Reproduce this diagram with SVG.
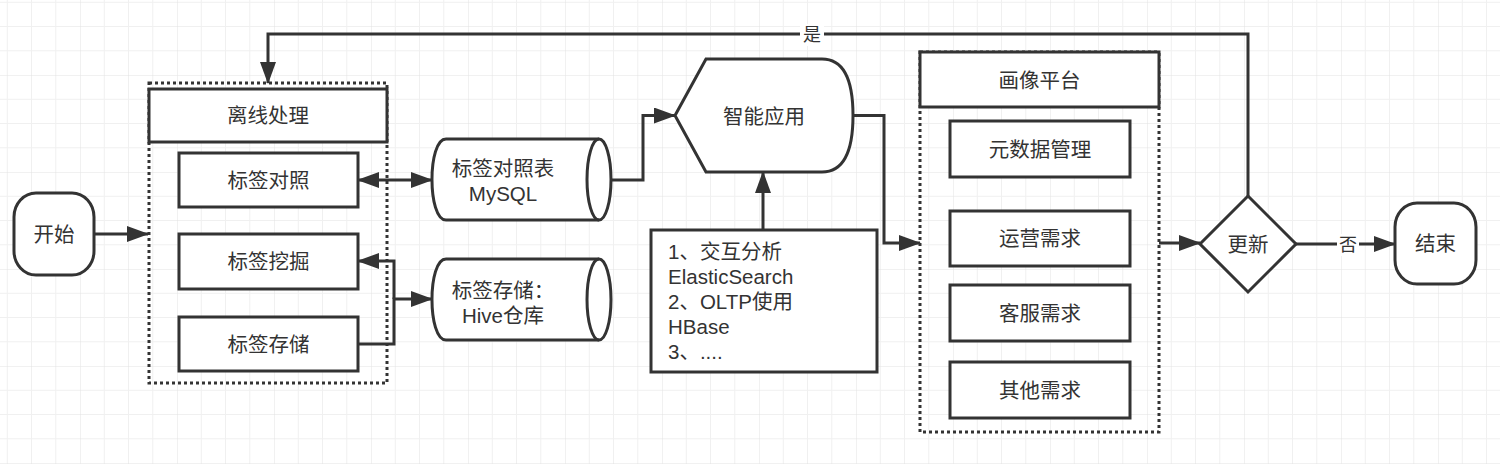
<svg xmlns="http://www.w3.org/2000/svg" width="1500" height="464" viewBox="0 0 1500 464">
<defs>
<pattern id="grid" x="80" y="75" width="97" height="97" patternUnits="userSpaceOnUse">
<path d="M24.25 0V97M48.5 0V97M72.75 0V97M0 24.25H97M0 48.5H97M0 72.75H97" stroke="#f0f0f0" stroke-width="1" fill="none"/>
<path d="M0 0V97M0 0H97" stroke="#e3e3e3" stroke-width="1" fill="none"/>
</pattern>
<marker id="arr" viewBox="0 0 22 16" markerWidth="22" markerHeight="16" refX="21" refY="8" orient="auto-start-reverse" markerUnits="userSpaceOnUse">
<path d="M0,0 L22,8 L0,16 Z" fill="#333"/>
</marker>
<style>
.s{fill:#fff;stroke:#333;stroke-width:3}
.d{fill:none;stroke:#333;stroke-width:3;stroke-dasharray:3 3}
.e{fill:none;stroke:#333;stroke-width:3}
.bg{fill:#fff}
text{font-family:"Liberation Sans","Noto Sans CJK SC",sans-serif;font-size:20.5px;fill:#333}
.c{text-anchor:middle;dominant-baseline:central}
.lb{font-size:18px}
</style>
</defs>
<rect width="1500" height="464" fill="#fff"/>
<rect width="1500" height="464" fill="url(#grid)"/>

<g id="container-offline">
<rect class="d" x="149" y="83" width="238" height="300"/>
<rect class="s" x="149" y="89" width="238" height="53"/>
<text class="c" x="268" y="115.5">离线处理</text>
</g>
<g id="container-profile">
<rect class="d" x="920" y="52" width="239" height="380"/>
<rect class="s" x="920" y="52" width="239" height="55"/>
<text class="c" x="1039.5" y="80">画像平台</text>
</g>

<g id="connectors">
<path class="e" d="M94,234 L148,234" marker-end="url(#arr)"/>
<path class="e" d="M358,180 L432,180" marker-start="url(#arr)" marker-end="url(#arr)"/>
<path class="e" d="M358,344 L394,344 L394,299 L432,299" marker-end="url(#arr)"/>
<path class="e" d="M394,299 L394,261 L358,261" marker-end="url(#arr)"/>
<path class="e" d="M610,180 L643,180 L643,115.5 L675,115.5" marker-end="url(#arr)"/>
<path class="e" d="M763,230 L763,172" marker-end="url(#arr)"/>
<path class="e" d="M853,115.5 L884,115.5 L884,243 L920,243" marker-end="url(#arr)"/>
<path class="e" d="M1159,243 L1200,243" marker-end="url(#arr)"/>
<path class="e" d="M1296,244 L1395,244" marker-end="url(#arr)"/>
<path class="e" d="M1248,196 L1248,34 L268,34 L268,83" marker-end="url(#arr)"/>
<rect class="bg" x="800" y="24" width="24" height="22"/>
<text class="c lb" x="812" y="35">是</text>
<rect class="bg" x="1337" y="234" width="22" height="22"/>
<text class="c lb" x="1348" y="245">否</text>
</g>

<g id="start">
<rect class="s" x="14" y="193" width="80" height="82" rx="22" ry="24"/>
<text class="c" x="54" y="234">开始</text>
</g>
<g id="tag-map">
<rect class="s" x="179" y="153" width="179" height="54"/>
<text class="c" x="268.5" y="180">标签对照</text>
</g>
<g id="tag-mining">
<rect class="s" x="179" y="234" width="179" height="55"/>
<text class="c" x="268.5" y="261.5">标签挖掘</text>
</g>
<g id="tag-store">
<rect class="s" x="179" y="317" width="179" height="54"/>
<text class="c" x="268.5" y="344">标签存储</text>
</g>
<g id="mysql">
<path class="s" d="M446,139 L599,139 A12,40.5 0 0 1 599,220 L446,220 C427.3,220 427.3,139 446,139 Z"/>
<path class="e" d="M599,139 A12,40.5 0 0 0 599,220"/>
<text class="c" x="503" y="168">标签对照表</text>
<text class="c" x="503" y="193">MySQL</text>
</g>
<g id="hive">
<path class="s" d="M446,259 L599,259 A12,40.5 0 0 1 599,340 L446,340 C427.3,340 427.3,259 446,259 Z"/>
<path class="e" d="M599,259 A12,40.5 0 0 0 599,340"/>
<text class="c" x="503" y="290">标签存储：</text>
<text class="c" x="503" y="315">Hive仓库</text>
</g>
<g id="smart-app">
<path class="s" d="M675,115.5 L706,59 L822,59 Q853,59 853,115.5 Q853,172 822,172 L706,172 Z"/>
<text class="c" x="764" y="116">智能应用</text>
</g>
<g id="usage">
<rect class="s" x="651" y="230" width="226" height="142"/>
<text x="668" y="251" dominant-baseline="central">1、交互分析</text>
<text x="668" y="276" dominant-baseline="central">ElasticSearch</text>
<text x="668" y="301" dominant-baseline="central">2、OLTP使用</text>
<text x="668" y="326" dominant-baseline="central">HBase</text>
<text x="668" y="351" dominant-baseline="central">3、....</text>
</g>
<g id="metadata">
<rect class="s" x="950" y="121" width="180" height="56"/>
<text class="c" x="1040" y="149">元数据管理</text>
</g>
<g id="ops">
<rect class="s" x="950" y="211" width="180" height="55"/>
<text class="c" x="1040" y="238.5">运营需求</text>
</g>
<g id="cs">
<rect class="s" x="950" y="285" width="180" height="56"/>
<text class="c" x="1040" y="313">客服需求</text>
</g>
<g id="other">
<rect class="s" x="950" y="362" width="180" height="56"/>
<text class="c" x="1040" y="390">其他需求</text>
</g>
<g id="update">
<polygon class="s" points="1248,196 1296,244 1248,292 1200,244"/>
<text class="c" x="1248" y="244">更新</text>
</g>
<g id="end">
<rect class="s" x="1395" y="203" width="81" height="81" rx="22" ry="24"/>
<text class="c" x="1435.5" y="243.5">结束</text>
</g>
</svg>
